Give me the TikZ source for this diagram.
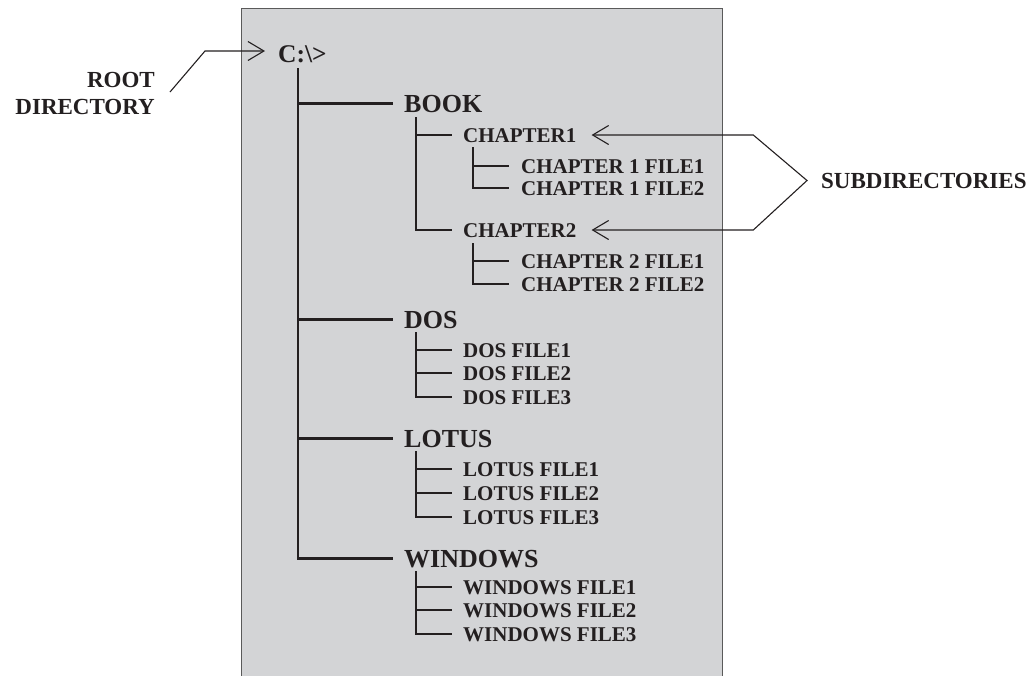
\documentclass[tikz,border=0pt]{standalone}
\usepackage{fontspec}
\setmainfont{Liberation Serif}
\usetikzlibrary{arrows.meta,calc}
\definecolor{ink}{HTML}{231F20}
\definecolor{boxfill}{HTML}{D3D4D6}
\definecolor{boxline}{HTML}{5A5A5A}
\tikzset{
  dirlbl/.style={font=\fontsize{26}{26}\selectfont\bfseries, anchor=base west, inner sep=0pt, text height=17pt, text depth=0pt, text=ink},
  filelbl/.style={font=\fontsize{21}{21}\selectfont\bfseries, anchor=base west, inner sep=0pt, text height=14pt, text depth=0pt, text=ink},
  notelbl/.style={font=\fontsize{23}{23}\selectfont\bfseries, inner sep=0pt, text height=15pt, text depth=0pt, text=ink},
  trunkline/.style={draw=ink, line width=2.1pt},
  twigline/.style={draw=ink, line width=1.6pt},
  pointer/.style={draw=ink, line width=1.1pt},
  barb/.tip={Straight Barb[length=16pt,width=19pt,line width=1.1pt]}
}
\begin{document}
\begin{tikzpicture}[x=1pt,y=-1pt]
\useasboundingbox (0,0) rectangle (1036,675);
% grey panel
\fill[boxfill] (241.5,8.5) rectangle (722.5,680);
\draw[boxline, line width=1.2pt] (241.5,680) -- (241.5,8.5) -- (722.5,8.5) -- (722.5,680);

% texts
\node[dirlbl, font=\fontsize{25.5}{26}\selectfont\bfseries] (root) at (278,62) {C:\textbackslash>};
\node[dirlbl] (book) at (404,112) {BOOK};
\node[filelbl] (ch1) at (463,142) {CHAPTER1};
\node[filelbl] (c1f1) at (521,173) {CHAPTER 1 FILE1};
\node[filelbl] (c1f2) at (521,195) {CHAPTER 1 FILE2};
\node[filelbl] (ch2) at (463,237) {CHAPTER2};
\node[filelbl] (c2f1) at (521,268) {CHAPTER 2 FILE1};
\node[filelbl] (c2f2) at (521,291) {CHAPTER 2 FILE2};
\node[dirlbl] (dos) at (404,328) {DOS};
\node[filelbl] (df1) at (463,357) {DOS FILE1};
\node[filelbl] (df2) at (463,380) {DOS FILE2};
\node[filelbl] (df3) at (463,404) {DOS FILE3};
\node[dirlbl] (lotus) at (404,447) {LOTUS};
\node[filelbl] (lf1) at (463,476) {LOTUS FILE1};
\node[filelbl] (lf2) at (463,500) {LOTUS FILE2};
\node[filelbl] (lf3) at (463,524) {LOTUS FILE3};
\node[dirlbl] (win) at (404,567) {WINDOWS};
\node[filelbl] (wf1) at (463,594) {WINDOWS FILE1};
\node[filelbl] (wf2) at (463,617) {WINDOWS FILE2};
\node[filelbl] (wf3) at (463,641) {WINDOWS FILE3};

\node[notelbl, anchor=base east] (rootA) at (155,87) {ROOT};
\node[notelbl, anchor=base east] (rootB) at (155,114) {DIRECTORY};
\node[notelbl, anchor=base west] (subd) at (821,188) {SUBDIRECTORIES};

% main trunk with its branches
\coordinate (tk) at (298.3,68);
\draw[trunkline] (tk) |- ([xshift=-11pt]win.west)
  (tk |- book.west) -- ([xshift=-11pt]book.west)
  (tk |- dos.west) -- ([xshift=-11pt]dos.west)
  (tk |- lotus.west) -- ([xshift=-11pt]lotus.west);

% BOOK subtree
\coordinate (bk) at (415.7,117);
\draw[twigline] (bk) |- ([xshift=-11pt]ch2.west)
  (bk |- ch1.west) -- ([xshift=-11pt]ch1.west);
\coordinate (c1) at (472.7,147);
\draw[twigline] (c1) |- ([xshift=-12pt]c1f2.west)
  (c1 |- c1f1.west) -- ([xshift=-12pt]c1f1.west);
\coordinate (c2) at (472.7,243);
\draw[twigline] (c2) |- ([xshift=-12pt]c2f2.west)
  (c2 |- c2f1.west) -- ([xshift=-12pt]c2f1.west);

% DOS subtree
\coordinate (ds) at (415.7,332);
\draw[twigline] (ds) |- ([xshift=-11pt]df3.west)
  (ds |- df1.west) -- ([xshift=-11pt]df1.west)
  (ds |- df2.west) -- ([xshift=-11pt]df2.west);

% LOTUS subtree
\coordinate (lt) at (415.7,451);
\draw[twigline] (lt) |- ([xshift=-11pt]lf3.west)
  (lt |- lf1.west) -- ([xshift=-11pt]lf1.west)
  (lt |- lf2.west) -- ([xshift=-11pt]lf2.west);

% WINDOWS subtree
\coordinate (wn) at (415.7,571);
\draw[twigline] (wn) |- ([xshift=-11pt]wf3.west)
  (wn |- wf1.west) -- ([xshift=-11pt]wf1.west)
  (wn |- wf2.west) -- ([xshift=-11pt]wf2.west);

% root directory pointer
\coordinate (rs) at (170,92);
\coordinate (rk) at (205,51);
\draw[pointer, -barb] (rs) -- (rk) -- ([xshift=-13pt]root.west |- rk);

% subdirectories pointer
\coordinate (sa) at (753.3,0);
\coordinate (sp) at ([xshift=-14pt]subd.west);
\draw[pointer, barb-barb] ([xshift=15pt]ch1.east) -- (sa |- ch1.east) -- (sp) -- (sa |- ch2.east) -- ([xshift=15pt]ch2.east);
\end{tikzpicture}
\end{document}
